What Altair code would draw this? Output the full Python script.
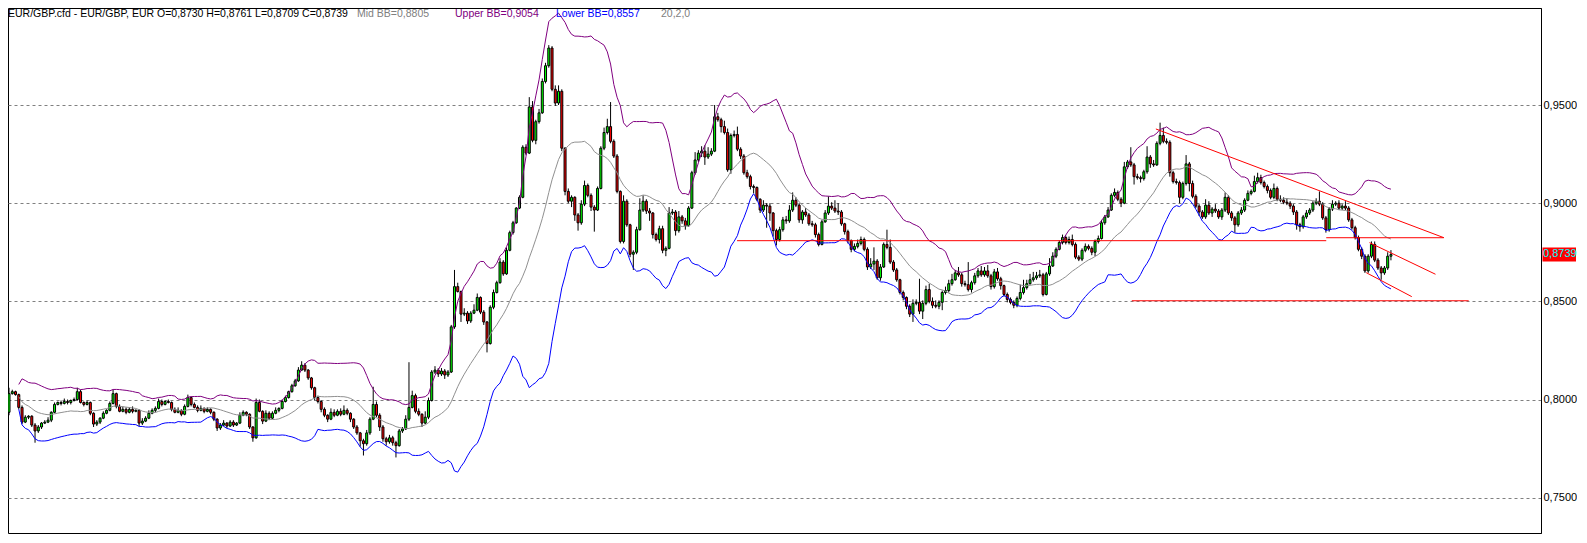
import altair as alt
import pandas as pd

# ---------------- data (prices in pips = price x 10000) -------------
first_open = 7935

close_a = [8030, 8040, 8025, 7960, 7885, 7910, 7915, 7870, 7840, 7860,
           7880, 7885, 7895, 7935, 7975, 7985, 7980, 7990, 7985, 7995,
           8000, 8040, 7985, 7975, 7985, 7930, 7875, 7885, 7905, 7930,
           7945, 7980, 8030, 7965, 7940, 7950, 7935, 7950, 7940, 7945,
           7880, 7890, 7905, 7930, 7945, 7955, 7990, 7975, 7990, 7985]
close_b = [7950, 7935, 7945, 7925, 7965, 8010, 7975, 7960, 7945, 7955,
           7940, 7950, 7935, 7900, 7855, 7870, 7880, 7865, 7885, 7870,
           7880, 7920, 7935, 7925, 7860, 7805, 7985, 7940, 7890, 7930,
           7905, 7930, 7945, 7955, 7990, 8010, 8040, 8070, 8095, 8150,
           8175, 8150, 8110, 8060, 8010, 7990, 7950, 7920, 7900, 7935,
           7920, 7940, 7925, 7945, 7930, 7900, 7860, 7830, 7790, 7775,
           7830, 7900, 7975, 7920, 7860]
close_c = [7800, 7785, 7805, 7780, 7765, 7840, 7850, 7900, 7960, 8020,
           7940, 7925, 7880, 7910, 7995, 8140, 8150, 8130, 8145, 8125,
           8140, 8370, 8575, 8550, 8435, 8440, 8400, 8440, 8455, 8520,
           8445, 8395, 8285, 8470, 8545, 8595, 8700, 8640, 8760, 8850,
           8900, 8975, 9030, 9285, 9255, 9490, 9320, 9415, 9460, 9620]
close_d = [9700, 9790, 9580, 9510, 9570, 9280, 9060, 9010, 9030, 8940,
           8900, 8995, 9090, 9040, 8980, 8965, 9075, 9280, 9360, 9390, 9315,
           9240, 9060, 8805, 9010, 8890, 8740, 8750, 8865, 8965, 9010,
           8960, 8950, 8840, 8815, 8870, 8760, 8770, 8950, 8955, 8860,
           8930, 8910, 8885, 8975, 9155, 9220, 9255, 9265, 9235, 9250,
           9265, 9440, 9425, 9390]
close_e = [9360, 9170, 9345, 9350, 9275, 9240, 9155, 9135, 9085, 9080,
           9020, 8965, 8990, 8985, 8950, 8860, 8815, 8865, 8915, 8910,
           8965, 9015, 8990, 8915]
close_f = [8955, 8940, 8895, 8890, 8840, 8790, 8905, 8950, 8985, 8975,
           8960, 8955, 8895, 8855, 8810, 8765, 8780, 8795, 8815, 8765,
           8675, 8690, 8705, 8620, 8675, 8790, 8775, 8700, 8660, 8610,
           8545, 8520, 8475, 8435, 8490, 8495, 8450, 8490, 8560, 8500,
           8480, 8475, 8495, 8545, 8555, 8590, 8610, 8645, 8635, 8590,
           8585, 8560, 8595, 8630, 8655, 8635, 8655, 8630, 8575, 8650,
           8615, 8580, 8535, 8510, 8495, 8480, 8515, 8545, 8570, 8590,
           8610, 8620, 8630, 8635, 8535, 8640, 8680, 8730, 8765, 8800,
           8825, 8800, 8815, 8790, 8725, 8715, 8760, 8780, 8770, 8750,
           8805, 8820]
close_g = [8900, 8930, 8965, 9040, 9055, 9020, 9000, 9185, 9210, 9195,
           9135, 9130, 9125, 9160, 9235, 9200, 9195, 9305, 9345, 9315,
           9310, 9155, 9110, 9105, 9030, 9100, 9200, 9100, 9035, 8985,
           8955, 8930, 8990, 8950, 8970, 8960, 8930, 8965, 9030, 8950,
           8925, 8890, 8950, 8965, 9015, 9050, 9060, 9110, 9130, 9105,
           9085, 9065, 9030, 9075, 9020, 9015, 9005, 9000, 8985, 8955,
           8890, 8880, 8930, 8950, 8965, 9000, 9010, 8995, 8925, 8865,
           8970, 8995, 9000, 8975, 8985, 8975, 8915, 8875, 8825, 8765,
           8730, 8655, 8730, 8790, 8710, 8670, 8645, 8670, 8730, 8739]

# upper / lower wick lengths beyond the body, in pips
up_a = [30, 10, 5, 5, 10, 10, 5, 5, 10, 10, 5, 10, 15, 5, 10, 5, 10, 15, 10, 5,
        10, 20, 10, 5, 10, 5, 5, 10, 5, 10, 5, 10, 20, 5, 10, 15, 10, 10, 15, 5,
        5, 15, 10, 15, 10, 10, 15, 10, 5, 10]
dn_a = [15, 5, 5, 10, 10, 5, 10, 10, 60, 10, 10, 5, 5, 10, 5, 5, 10, 5, 10, 10,
        5, 5, 5, 10, 5, 10, 15, 10, 10, 5, 5, 5, 5, 10, 5, 5, 10, 5, 10, 5,
        15, 10, 5, 5, 5, 10, 5, 10, 5, 5]
up_b = [5, 10, 15, 5, 10, 15, 5, 10, 10, 15, 5, 10, 5, 5, 5, 10, 15, 5, 10, 10,
        5, 15, 10, 5, 5, 5, 20, 15, 5, 15, 10, 10, 15, 5, 10, 10, 5, 10, 10, 15,
        20, 10, 5, 5, 5, 10, 5, 10, 5, 20, 15, 10, 15, 25, 10, 5, 5, 10, 5, 10,
        15, 10, 90, 15, 10]
dn_b = [10, 5, 5, 10, 5, 5, 10, 5, 10, 5, 10, 5, 10, 10, 15, 10, 5, 10, 5, 10,
        5, 5, 5, 10, 10, 20, 5, 5, 15, 5, 10, 5, 5, 10, 5, 5, 5, 5, 5, 5,
        5, 10, 10, 10, 15, 10, 15, 10, 15, 5, 10, 5, 10, 5, 10, 15, 10, 10, 30, 60,
        10, 10, 5, 10, 20]
up_c = [10, 10, 15, 10, 10, 10, 10, 20, 230, 25, 10, 15, 5, 30, 15, 10, 20, 10, 15, 10,
        10, 10, 85, 20, 5, 25, 10, 10, 30, 20, 5, 10, 5, 10, 15, 10, 20, 10, 15, 10,
        10, 5, 10, 10, 15, 50, 30, 10, 20, 15]
dn_c = [15, 20, 10, 15, 60, 5, 10, 5, 10, 5, 10, 10, 20, 5, 10, 5, 10, 15, 10, 20,
        10, 5, 10, 5, 40, 10, 15, 10, 5, 5, 10, 15, 45, 5, 10, 5, 5, 10, 5, 5,
        10, 5, 5, 5, 10, 5, 10, 20, 10, 5]
up_d = [15, 15, 10, 20, 30, 10, 5, 15, 10, 5,
        10, 20, 25, 10, 10, 10, 10, 10, 25, 40, 125,
        10, 10, 5, 30, 10, 5, 10, 15, 60, 30,
        10, 15, 5, 10, 15, 15, 10, 30, 15, 10,
        30, 10, 15, 10, 10, 40, 15, 25, 30, 35,
        15, 60, 20, 10]
dn_d = [10, 10, 10, 15, 10, 15, 20, 10, 30, 30,
        40, 10, 10, 10, 20, 110, 5, 5, 10, 10, 10,
        10, 10, 10, 10, 10, 15, 80, 10, 5, 10,
        15, 40, 20, 10, 20, 15, 30, 5, 10, 25,
        10, 15, 20, 5, 5, 10, 10, 20, 40, 10,
        10, 5, 10, 30]
up_e = [30, 20, 10, 20, 40, 10, 10, 15, 10, 10, 5, 5, 25, 10, 15, 5, 10, 15, 15, 20,
        25, 40, 15, 10]
dn_e = [10, 10, 20, 10, 10, 15, 10, 10, 15, 30, 10, 15, 10, 110, 40, 30, 30, 10, 10, 15,
        10, 10, 10, 15]
up_f = [10, 20, 10, 15, 10, 10, 10, 15, 50, 20, 40, 40, 10, 5, 10, 5, 15, 20, 15, 10,
        10, 30, 70, 10, 15, 10, 75, 40, 10, 10, 5, 10, 5, 10, 20, 15, 120, 15, 20, 30,
        20, 25, 10, 10, 20, 20, 30, 15, 30, 10, 15, 115, 10, 15, 15, 25, 20, 30, 10, 15,
        20, 10, 5, 10, 10, 10, 10, 40, 40, 20, 30, 30, 20, 25, 10, 10, 40, 20, 10, 10,
        15, 10, 15, 25, 10, 10, 10, 15, 10, 10, 10, 15]
dn_f = [20, 10, 10, 10, 15, 10, 5, 5, 10, 10, 10, 15, 10, 15, 15, 15, 10, 10, 10, 10,
        15, 10, 30, 10, 15, 5, 10, 10, 10, 10, 10, 15, 15, 15, 40, 10, 15, 40, 10, 10,
        15, 10, 15, 40, 10, 10, 10, 5, 10, 15, 10, 10, 15, 10, 10, 10, 10, 10, 15, 10,
        10, 20, 10, 15, 10, 15, 10, 10, 10, 10, 5, 10, 10, 10, 10, 5, 10, 5, 10, 5,
        10, 10, 10, 10, 10, 10, 10, 10, 10, 15, 20, 10]
up_g = [15, 10, 15, 10, 20, 10, 10, 25, 10, 75, 10, 15, 10, 10, 55, 10, 20, 10, 65, 40,
        15, 10, 10, 15, 10, 10, 45, 10, 15, 10, 10, 10, 30, 20, 10, 25, 10, 10, 25, 10,
        10, 10, 10, 15, 10, 15, 10, 30, 25, 15, 10, 10, 10, 25, 10, 20, 15, 20, 10, 10,
        10, 10, 10, 15, 10, 10, 15, 50, 10, 10, 10, 20, 10, 15, 10, 25, 10, 10, 10, 10,
        10, 10, 10, 15, 15, 10, 10, 10, 20, 22]
dn_g = [5, 10, 5, 5, 10, 10, 20, 5, 10, 10, 40, 10, 20, 10, 10, 20, 10, 5, 10, 10,
        10, 20, 10, 10, 30, 10, 10, 40, 10, 10, 20, 10, 10, 10, 20, 10, 10, 15, 10, 10,
        15, 40, 10, 10, 10, 5, 10, 5, 10, 10, 10, 15, 10, 10, 10, 10, 10, 10, 15, 15,
        25, 25, 10, 10, 10, 10, 10, 10, 10, 15, 10, 10, 10, 10, 10, 10, 10, 10, 10, 10,
        15, 10, 10, 10, 10, 10, 35, 10, 10, 21]

# drawn trend lines: (candle index, price) -> (candle index, price)
tl_i = [223.9, 405.1, 352.7, 418.4, 417.4, 345.3]
tl_p = [0.8809, 0.8824, 0.9378, 0.8799, 0.8646, 0.8503]
tl_i2 = [405.1, 441.2, 441.3, 438.7, 431.4, 448.9]
tl_p2 = [0.8809, 0.8824, 0.8824, 0.8638, 0.8524, 0.8503]

grid_values = [0.75, 0.80, 0.85, 0.90, 0.95]
hdr_main = "EUR/GBP.cfd - EUR/GBP, EUR O=0,8730 H=0,8761 L=0,8709 C=0,8739"
hdr_mid = "Mid BB=0,8805"
hdr_up = "Upper BB=0,9054"
hdr_lo = "Lower BB=0,8557"
hdr_par = "20,2,0"
price_label = "0,8739"

# ---------------- build tables ----------------
closes = close_a + close_b + close_c + close_d + close_e + close_f + close_g
ups = up_a + up_b + up_c + up_d + up_e + up_f + up_g
dns = dn_a + dn_b + dn_c + dn_d + dn_e + dn_f + dn_g
N = len(closes)
opens = [first_open] + closes[:-1]
df = pd.DataFrame({
    "i": list(range(N)),
    "open": [o / 1e4 for o in opens],
    "close": [c / 1e4 for c in closes],
    "high": [(max(o, c) + u) / 1e4 for o, c, u in zip(opens, closes, ups)],
    "low": [(min(o, c) - d) / 1e4 for o, c, d in zip(opens, closes, dns)],
})
tl = pd.DataFrame({"i": tl_i, "p": tl_p, "i2": tl_i2, "p2": tl_p2})

# ---------------- layout ----------------
W, H = 1533, 525
first_px, last_px = 4.0, 1395.0
step = (last_px - first_px) / (N - 1)
xmin = (8 - first_px) / step
xmax = (8 + W - first_px) / step
px_per_unit = 1963.5
ymax = 0.95 + (105 - 8) / px_per_unit
ymin = 0.95 - (8 + H - 105) / px_per_unit

FONT = "Liberation Sans"
xs = alt.Scale(domain=[xmin, xmax], nice=False, zero=False)
ys = alt.Scale(domain=[ymin, ymax], nice=False, zero=False)
yaxis = alt.Axis(orient="right", values=grid_values, grid=True, gridColor="#808080",
                 gridDash=[3, 3], gridWidth=1, domain=True, domainColor="black",
                 ticks=False, labelPadding=2, labelFont=FONT, labelFontSize=11,
                 labelColor="black", labelOverlap=False,
                 labelExpr="replace(format(datum.value, '.4f'), '.', ',')", title=None)


def X(f):
    return alt.X(f, type="quantitative", scale=xs, axis=None)


def Y(f):
    return alt.Y(f, type="quantitative", scale=ys, axis=yaxis)


base = alt.Chart(df)
wicks = base.mark_rule(color="black", strokeWidth=1).encode(x=X("i"), y=Y("low"), y2="high")
bodies = base.mark_bar(size=2, stroke="black", strokeWidth=1).encode(
    x=X("i"), y=Y("open"), y2="close",
    fill=alt.condition("datum.close >= datum.open", alt.value("#00FF00"), alt.value("#FF0000")))

bb = base.transform_window(
    mid="mean(close)", sd="stdevp(close)", frame=[-19, 0], sort=[alt.SortField("i")]
).transform_calculate(
    upper="datum.mid + 2 * datum.sd", lower="datum.mid - 2 * datum.sd"
).transform_filter("datum.i >= 3")
mid_line = bb.mark_line(color="#909090", strokeWidth=1).encode(x=X("i"), y=Y("mid"))
up_line = bb.mark_line(color="#800080", strokeWidth=1).encode(x=X("i"), y=Y("upper"))
lo_line = bb.mark_line(color="#0000FF", strokeWidth=1).encode(x=X("i"), y=Y("lower"))

trend = alt.Chart(tl).mark_rule(color="#FF0000", strokeWidth=1).encode(
    x=X("i"), y=Y("p"), x2="i2", y2="p2")

last = pd.DataFrame({"p": [closes[-1] / 1e4], "t": [price_label]})
box = alt.Chart(last).mark_rule(color="#FF0000", strokeWidth=14, strokeCap="butt").encode(
    x=alt.value(W + 1.5), x2=alt.value(W + 35), y=Y("p"))
box_txt = alt.Chart(last).mark_text(align="left", baseline="middle", font=FONT, fontSize=11,
                                    color="#00FFFF").encode(
    x=alt.value(W + 2), y=Y("p"), text="t:N")


def header(txt, xpos, col):
    return alt.Chart(pd.DataFrame({"t": [txt]})).mark_text(
        align="left", baseline="top", font=FONT, fontSize=10.5, color=col).encode(
        x=alt.value(xpos), y=alt.value(1), text="t:N")


hdr = [header(hdr_main, 0, "black"), header(hdr_mid, 349, "#808080"),
       header(hdr_up, 447, "#800080"), header(hdr_lo, 548, "#0000FF"),
       header(hdr_par, 653, "#808080")]

chart = alt.layer(wicks, bodies, mid_line, up_line, lo_line, trend, box, box_txt, *hdr).properties(
    width=W, height=H,
    autosize=alt.AutoSizeParams(type="none"),
    padding={"left": 0, "top": 0, "right": 36, "bottom": 1},
    background="white",
).configure_view(stroke="black", strokeWidth=1)

chart.save("out.html", embed_options={"renderer": "svg", "actions": False})
